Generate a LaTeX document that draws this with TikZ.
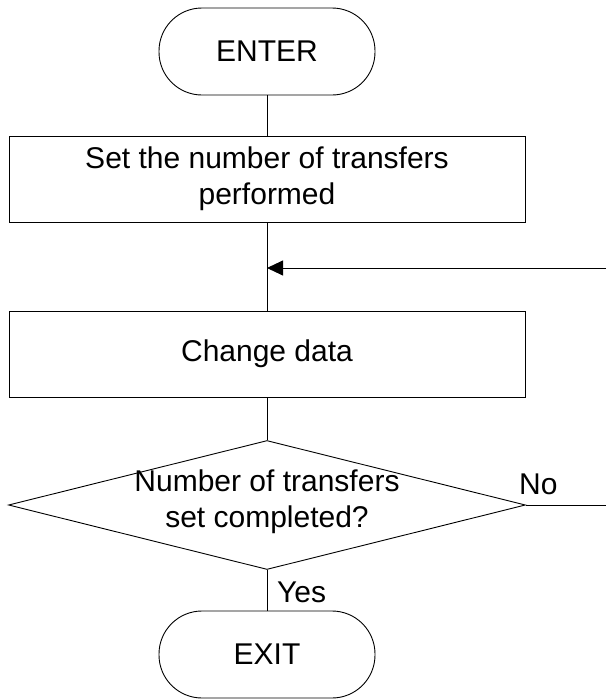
\documentclass[tikz,border=0pt]{standalone}
\usepackage{fontspec}
\setmainfont{Liberation Sans}
\usetikzlibrary{shapes.geometric,arrows.meta}
\begin{document}
\begin{tikzpicture}[x=1pt,y=-1pt,
  every node/.style={font=\fontsize{30}{36}\selectfont},
  conn/.style={draw=black,line width=0.9pt},
  terminal/.style={draw=black,line width=0.9pt,rounded corners=43pt,minimum width=216pt,minimum height=87pt,inner sep=0pt},
  proc/.style={draw=black,line width=0.9pt,minimum width=516pt,minimum height=86pt,inner sep=0pt,align=center},
  decision/.style={draw=black,line width=0.9pt,diamond,minimum width=517pt,minimum height=129pt,inner sep=0pt},
  lbl/.style={inner sep=0pt,align=center}]
\useasboundingbox (0,0) rectangle (606,699);
\node[terminal] (enter) at (267,51.5) {ENTER};
\node[proc] (set) at (267,179) {Set the number of transfers\\performed};
\node[proc] (change) at (267,354) {Change data};
\node[decision] (dec) at (267,505) {};
\node[lbl] (dectext) at (267,502) {Number of transfers\\set completed?};
\node[lbl,anchor=west] (no) at (519,484) {No};
\node[terminal] (exit) at (267,654.5) {EXIT};
\coordinate (join) at (267,268);
\coordinate (loopin) at (606,268);
\coordinate (noout) at (606,505);
\node[lbl,anchor=west] (yes) at (277,592) {Yes};
\draw[conn] (enter) -- (set);
\draw[conn] (set) -- (change);
\draw[conn,-{Triangle[length=16pt,width=15pt]}] (loopin) -- (join);
\draw[conn] (change) -- (dec);
\draw[conn] (dec.east) -- (noout);
\draw[conn] (dec.south) -- (exit);
\end{tikzpicture}
\end{document}
